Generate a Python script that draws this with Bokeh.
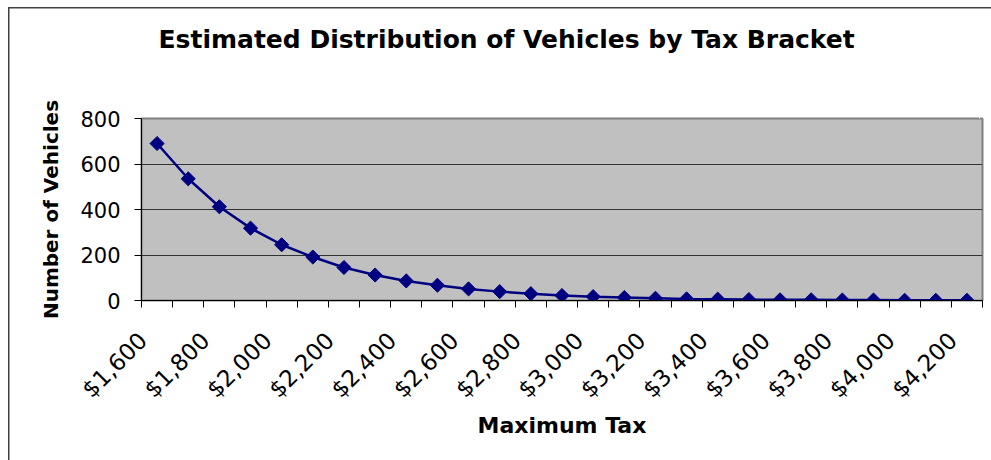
import math
from bokeh.plotting import figure
from bokeh.models import Range1d, FixedTicker, LinearAxis
from bokeh.embed import file_html
from bokeh.resources import INLINE

# ---- data ----
max_tax = [1600, 1700, 1800, 1900, 2000, 2100, 2200, 2300, 2400, 2500,
           2600, 2700, 2800, 2900, 3000, 3100, 3200, 3300, 3400, 3500,
           3600, 3700, 3800, 3900, 4000, 4100, 4200]
vehicles = [690, 535, 412, 318, 245, 191, 145, 112, 86, 67,
            51, 39, 30, 22, 17, 13, 10, 7, 6, 4,
            3, 3, 2, 2, 1, 1, 1]
x_label_ticks = [1600, 1800, 2000, 2200, 2400, 2600, 2800, 3000, 3200, 3400,
                 3600, 3800, 4000, 4200]
y_ticks = [0, 200, 400, 600, 800]

title_text = "Estimated Distribution of Vehicles by Tax Bracket"
x_title = "Maximum Tax"
y_title = "Number of Vehicles"

step = max_tax[1] - max_tax[0]
boundaries = [v - step / 2 for v in max_tax] + [max_tax[-1] + step / 2]

# rotated labels sit a little left of their category centre (style offset)
label_shift = 45
label_positions = [t - label_shift for t in x_label_ticks]
label_overrides = {pos: "${:,}".format(t) for pos, t in zip(label_positions, x_label_ticks)}

p = figure(width=991, height=460, output_backend="svg", toolbar_location=None,
           x_range=Range1d(max_tax[0] - step / 2, max_tax[-1] + step / 2),
           y_range=Range1d(0, 800),
           min_border_left=141, min_border_right=9, min_border_top=118,
           min_border_bottom=160,
           background_fill_color="#C0C0C0", border_fill_color=None,
           outline_line_color="#808080", outline_line_width=2,
           title=title_text)

xa = p.below[0]
ya = p.left[0]

# outer chart-area frame (top and left edges) drawn as page background
p.styles = {
    "background": ("linear-gradient(#404040, #404040) 8px 7px / 100% 1.5px no-repeat, "
                   "linear-gradient(#404040, #404040) 8px 7px / 1.5px 100% no-repeat, "
                   "#ffffff"),
}

# title
p.title.text_font = "DejaVu Sans"
p.title.text_font_style = "bold"
p.title.text_font_size = "25px"
p.title.text_color = "black"
p.title.align = "left"
p.title.offset = 17
p.title.standoff = 0

# blank spacer (a white, label-less axis tick) between title and plot area
spacer_pos = max_tax[-1] + step * 0.4
spacer = LinearAxis(ticker=FixedTicker(ticks=[spacer_pos]), major_tick_out=65,
                    major_tick_in=0, minor_tick_out=0, minor_tick_in=0,
                    major_label_standoff=0, major_label_overrides={spacer_pos: ""},
                    major_label_text_font_size="1px",
                    major_tick_line_color="white", axis_line_color=None)
p.add_layout(spacer, "above")

# x axis
xa.ticker = FixedTicker(ticks=label_positions, minor_ticks=boundaries)
xa.major_label_overrides = label_overrides
xa.major_label_orientation = math.pi / 4
xa.major_label_text_font = "DejaVu Sans"
xa.major_label_text_font_size = "23px"
xa.major_label_text_color = "black"
xa.major_label_standoff = 29
xa.major_tick_out = 0
xa.major_tick_in = 0
xa.minor_tick_out = 7
xa.minor_tick_in = 0
xa.minor_tick_line_color = "black"
xa.axis_line_color = "black"
xa.axis_line_width = 1
xa.axis_label = x_title
xa.axis_label_text_font = "DejaVu Sans"
xa.axis_label_text_font_style = "bold"
xa.axis_label_text_font_size = "22px"
xa.axis_label_text_color = "black"
xa.axis_label_standoff = -2

# y axis
ya.ticker = FixedTicker(ticks=y_ticks)
ya.major_label_text_font = "DejaVu Sans"
ya.major_label_text_font_size = "21px"
ya.major_label_text_color = "black"
ya.major_label_standoff = 14
ya.major_tick_out = 7
ya.major_tick_in = 0
ya.major_tick_line_color = "black"
ya.minor_tick_out = 0
ya.minor_tick_in = 0
ya.axis_line_color = "black"
ya.axis_label = y_title
ya.axis_label_text_font = "DejaVu Sans"
ya.axis_label_text_font_style = "bold"
ya.axis_label_text_font_size = "20px"
ya.axis_label_text_color = "black"
ya.axis_label_standoff = 14

p.xgrid.visible = False
p.ygrid.ticker = FixedTicker(ticks=y_ticks)
p.ygrid.grid_line_color = "#333333"
p.ygrid.grid_line_width = 1

p.line(max_tax, vehicles, line_color="#000080", line_width=2.5)
p.scatter(max_tax, vehicles, marker="square", angle=math.pi / 4, size=10,
          fill_color="#000080", line_color="#000080")

open("out.html", "w").write(file_html(p, INLINE))
